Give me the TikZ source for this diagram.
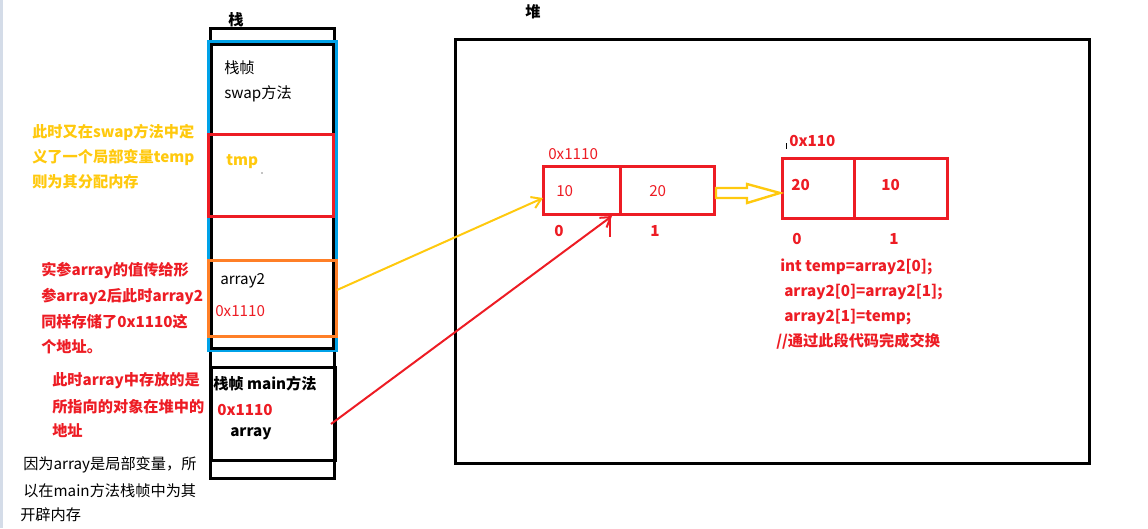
\documentclass[tikz,border=0pt]{standalone}
\usepackage{fontspec}
\setmainfont{Noto Sans CJK SC}
\usetikzlibrary{arrows.meta}
\definecolor{pred}{HTML}{ED1C24}
\definecolor{pyel}{HTML}{FFC90E}
\definecolor{pblue}{HTML}{00A2E8}
\definecolor{porange}{HTML}{FF7F27}
\definecolor{edge}{HTML}{D4DCE8}
\begin{document}
\begin{tikzpicture}[x=0.75pt,y=-0.75pt,
  every node/.style={inner sep=0pt,anchor=west,font=\fontsize{11.4}{13}\selectfont},
  thick3/.style={line width=2.25pt},
  bt/.style={font=\fontsize{11.4}{13}\selectfont\bfseries},
  redt/.style={text=pred},
  yelt/.style={text=pyel},
  barb/.style={-{Straight Barb[length=7pt,width=9pt,line width=1.5pt]}},
]
\useasboundingbox (0,0) rectangle (1148,528);
\fill[edge] (0,0) rectangle (3,528);

% ---- stack ----
\node[bt] (stacklbl) at (228,20) {栈};
\draw[thick3,black] (210,29) rectangle (334,478);
\draw[thick3,pblue] (208,42) rectangle (336,350);
\draw[thick3,black] (211,45) rectangle (333,348);
\draw[thick3,pred] (208,134) rectangle (333,216);
\draw[thick3,porange] (208,260) rectangle (336,336);
\draw[thick3,black] (211,367) rectangle (335,460);

\node (zz) at (224,68) {栈帧};
\node (swapm) at (224,94) {swap方法};
\node[bt,yelt] (tmp) at (226,162) {tmp};
\fill (262,173) circle (0.6);
\node (a2) at (220,281) {array2};
\node[redt] (a2v) at (215,311) {0x1110};
\node[bt] (mainm) at (213,384) {栈帧 main方法};
\node[bt,redt] (mainv) at (217,410) {0x1110};
\node[bt] (arr) at (230,434) {array};

% ---- left notes ----
\node[bt,yelt] (n1a) at (32,132) {此时又在swap方法中定};
\node[bt,yelt] (n1b) at (32,157) {义了一个局部变量temp};
\node[bt,yelt] (n1c) at (32,182) {则为其分配内存};
\node[bt,redt] (n2a) at (41,271) {实参array的值传给形};
\node[bt,redt] (n2b) at (41,297) {参array2后此时array2};
\node[bt,redt] (n2c) at (41,322) {同样存储了0x1110这};
\node[bt,redt] (n2d) at (41,347) {个地址。};
\node[bt,redt] (n3a) at (52,381) {此时array中存放的是};
\node[bt,redt] (n3b) at (52,407) {所指向的对象在堆中的};
\node[bt,redt] (n3c) at (52,431) {地址};
\node (n4a) at (23,465) {因为array是局部变量，所};
\node (n4b) at (23,491) {以在main方法栈帧中为其};
\node (n4c) at (20,515) {开辟内存};

% ---- heap ----
\node[bt] (heaplbl) at (525,12) {堆};
\draw[thick3,black] (455,40) rectangle (1089,463);

\node[redt] (addr1) at (548,154) {0x1110};
\draw[thick3,pred] (543,166) rectangle (714,214);
\draw[thick3,pred] (620,166) -- (620,214);
\node[redt] (c10) at (556,191) {10};
\node[redt] (c20) at (649,191) {20};
\node[bt,redt] (i0) at (554,231) {0};
\node[bt,redt] (i1) at (650,231) {1};
\draw[pred,line width=1.5pt] (610,219) -- (610,237);

\draw[black,line width=0.6pt] (786,143) -- (786,149);
\node[bt,redt] (addr2) at (789,141) {0x110};
\draw[thick3,pred] (782,158) rectangle (947,218);
\draw[thick3,pred] (854,158) -- (854,218);
\node[bt,redt] (d20) at (791,185) {20};
\node[bt,redt] (d10) at (881,185) {10};
\node[bt,redt] (j0) at (792,239) {0};
\node[bt,redt] (j1) at (889,239) {1};

\node[bt,redt] (code1) at (780,267) {int temp=array2[0];};
\node[bt,redt] (code2) at (784,292) {array2[0]=array2[1];};
\node[bt,redt] (code3) at (784,317) {array2[1]=temp;};
\node[bt,redt] (code4) at (776,341) {//通过此段代码完成交换};

% hollow arrow between arrays
\draw[pyel,line width=1.8pt,line join=miter]
  (716,188) -- (747,188) -- (747,184) -- (780,193) -- (747,203) -- (747,198) -- (716,198) -- cycle;

% connectors
\coordinate (ys) at (337,290);
\coordinate (ye) at (543,198);
\draw[pyel,line width=1.5pt,barb] (ys) -- (ye);
\coordinate (rs) at (331,424);
\coordinate (re) at (612,216);
\draw[pred,line width=1.5pt,barb] (rs) -- (re);
\end{tikzpicture}
\end{document}
